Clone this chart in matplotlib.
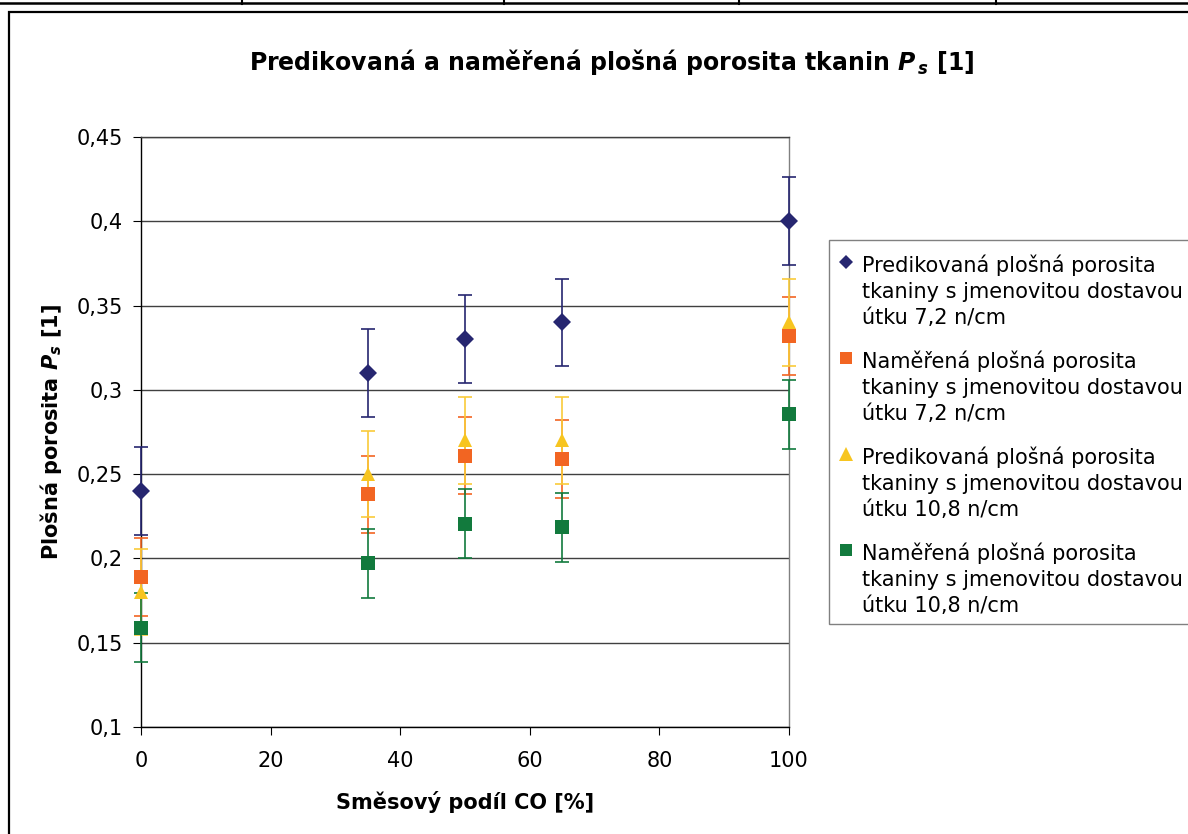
import numpy as np
import matplotlib
matplotlib.use("Agg")
import matplotlib.pyplot as plt
from matplotlib.lines import Line2D
from matplotlib.patches import Rectangle
from matplotlib.ticker import FuncFormatter, MultipleLocator

plt.rcParams.update({
    'font.family': ['DejaVu Sans'],
    'mathtext.fontset': 'custom',
    'mathtext.rm': 'DejaVu Sans:bold',
    'mathtext.it': 'DejaVu Sans:bold:italic',
    'mathtext.bf': 'DejaVu Sans:bold',
})

# mixing share of CO [%]
x_co = [0, 35, 50, 65, 100]

# predicted / measured surface porosity for both weft densities
pred_72 = [0.240, 0.310, 0.330, 0.340, 0.400]
pred_72_err = [0.026, 0.026, 0.026, 0.026, 0.026]
meas_72 = [0.189, 0.238, 0.261, 0.259, 0.332]
meas_72_err = [0.023, 0.023, 0.023, 0.023, 0.023]
pred_108 = [0.180, 0.250, 0.270, 0.270, 0.340]
pred_108_err = [0.0257, 0.0257, 0.0257, 0.0257, 0.0257]
meas_108 = [0.159, 0.197, 0.2205, 0.2185, 0.2855]
meas_108_err = [0.0205, 0.0205, 0.0205, 0.0205, 0.0205]

labels = [
    'Predikovaná plošná porosita\ntkaniny s jmenovitou dostavou\nútku 7,2 n/cm',
    'Naměřená plošná porosita\ntkaniny s jmenovitou dostavou\nútku 7,2 n/cm',
    'Predikovaná plošná porosita\ntkaniny s jmenovitou dostavou\nútku 10,8 n/cm',
    'Naměřená plošná porosita\ntkaniny s jmenovitou dostavou\nútku 10,8 n/cm',
]

NAVY = '#262670'
ORANGE = '#F26522'
YELLOW = '#F7C520'
GREEN = '#127A3D'
GRID = '#404040'

# values, errors, marker colour, bar colour, marker, size, legend size
series = [
    (pred_72, pred_72_err, NAVY, NAVY, 'D', 9.0, 7.5),
    (meas_72, meas_72_err, ORANGE, ORANGE, 's', 9.5, 8.0),
    (pred_108, pred_108_err, YELLOW, '#F9CB3A', '^', 10.5, 9.5),
    (meas_108, meas_108_err, GREEN, GREEN, 's', 9.5, 8.0),
]

W, H = 1188, 834
fig = plt.figure(figsize=(W / 100, H / 100), dpi=100)
ax = fig.add_axes([141 / W, 1 - 727 / H, (789 - 141) / W, (727 - 137) / H])

for i, (vals, err, col, ecol, mk, ms, lms) in enumerate(series):
    eb = ax.errorbar(x_co, vals, yerr=err, fmt='none', ecolor=ecol,
                     elinewidth=1.2, capsize=4.8, capthick=1.2, zorder=3 + i)
    for art in list(eb.lines[1]) + list(eb.lines[2]):
        art.set_clip_on(False)
    ax.plot(x_co, vals, linestyle='none', marker=mk, markersize=ms,
            color=col, markeredgewidth=0, zorder=10 + i, clip_on=False)

ax.set_xlim(0, 100)
ax.set_ylim(0.1, 0.45)
ax.xaxis.set_major_locator(MultipleLocator(20))
ax.yaxis.set_major_locator(MultipleLocator(0.05))
ax.yaxis.set_major_formatter(FuncFormatter(lambda v, p: f'{v:g}'.replace('.', ',')))

ax.grid(axis='y', color=GRID, linewidth=1.0)
ax.set_axisbelow(True)
ax.spines['top'].set_color(GRID)
ax.spines['right'].set_color('#808080')
for side in ['left', 'bottom']:
    ax.spines[side].set_color('black')
for side in ax.spines:
    ax.spines[side].set_linewidth(1.0)

ax.tick_params(axis='both', direction='out', length=5.5, width=0.8, labelsize=15)
ax.tick_params(axis='y', pad=7.5)
ax.tick_params(axis='x', pad=12)

ax.set_xlabel('Směsový podíl CO [%]', fontsize=15, fontweight='bold', labelpad=14)
ax.set_ylabel('Plošná porosita $P_s$ [1]', fontsize=15, fontweight='bold', labelpad=9)

fig.text(612 / W, 1 - 62 / H, 'Predikovaná a naměřená plošná porosita tkanin $P_{\\,s}$ [1]',
         ha='center', va='center', fontsize=17, fontweight='bold')

# legend box, drawn by hand
fig.patches.append(Rectangle((829 / W, 1 - 624 / H), 1.0, (624 - 240) / H,
                             transform=fig.transFigure, facecolor='white',
                             edgecolor='#808080', linewidth=1.0))
for i, (vals, err, col, ecol, mk, ms, lms) in enumerate(series):
    y0 = 262 + 96 * i
    fig.add_artist(Line2D([846 / W], [1 - y0 / H], marker=mk, color=col,
                          markersize=lms, markeredgewidth=0,
                          transform=fig.transFigure))
    fig.text(862 / W, 1 - (y0 - 8) / H, labels[i], ha='left', va='top',
             fontsize=15, linespacing=1.4)

# chart frame and border lines above it
fig.patches.append(Rectangle((9 / W, -0.05), 1.1, 1 - 12 / H + 0.05,
                             transform=fig.transFigure, fill=False,
                             edgecolor='black', linewidth=1.6))
fig.add_artist(Line2D([0, 1], [1 - 3 / H, 1 - 3 / H], color='black',
                      linewidth=1.8, transform=fig.transFigure))
for xv in [242, 504, 739, 996]:
    fig.add_artist(Line2D([xv / W, xv / W], [1, 1 - 4 / H], color='black',
                          linewidth=1.5, transform=fig.transFigure))

fig.savefig('out.png', dpi=100)
